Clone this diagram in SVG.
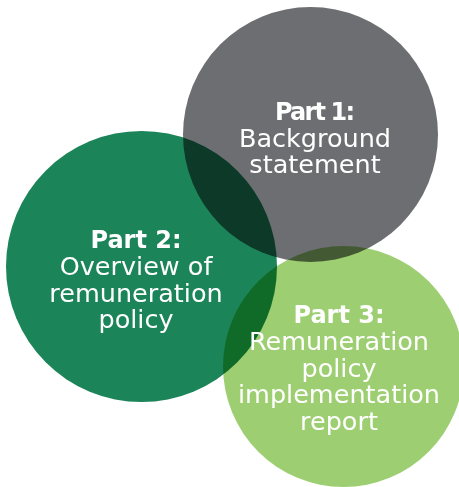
<svg xmlns="http://www.w3.org/2000/svg" width="459" height="487" viewBox="0 0 459 487">
  <style>
    .disc { mix-blend-mode: multiply; }
    .label { font-family: "DejaVu Sans", "Noto Sans", sans-serif; font-size: 25.5px; fill: #ffffff; text-anchor: middle; }
    .head { font-weight: bold; font-size: 24px; }
  </style>
  <rect width="459" height="487" fill="#ffffff"/>
  <g id="part1">
    <circle class="disc" cx="310.5" cy="134.5" r="127.5" fill="#6d6e71"/>
  </g>
  <g id="part2">
    <circle class="disc" cx="141.5" cy="266.5" r="135.5" fill="#1b8459"/>
  </g>
  <g id="part3">
    <circle class="disc" cx="343.5" cy="366.5" r="120.5" fill="#9dcf72"/>
  </g>
  <g id="labels">
    <text class="label" x="315" y="120"><tspan class="head" textLength="80">Part 1:</tspan><tspan x="315" y="146.7">Background</tspan><tspan x="315" y="173">statement</tspan></text>
    <text class="label" x="136" y="248.3"><tspan class="head">Part 2:</tspan><tspan x="136" y="275">Overview of</tspan><tspan x="136" y="301.7">remuneration</tspan><tspan x="136" y="328.3">policy</tspan></text>
    <text class="label" x="339" y="323.3"><tspan class="head">Part 3:</tspan><tspan x="339" y="350">Remuneration</tspan><tspan x="339" y="376.7">policy</tspan><tspan x="339" y="403.3">implementation</tspan><tspan x="339" y="430">report</tspan></text>
  </g>
</svg>
